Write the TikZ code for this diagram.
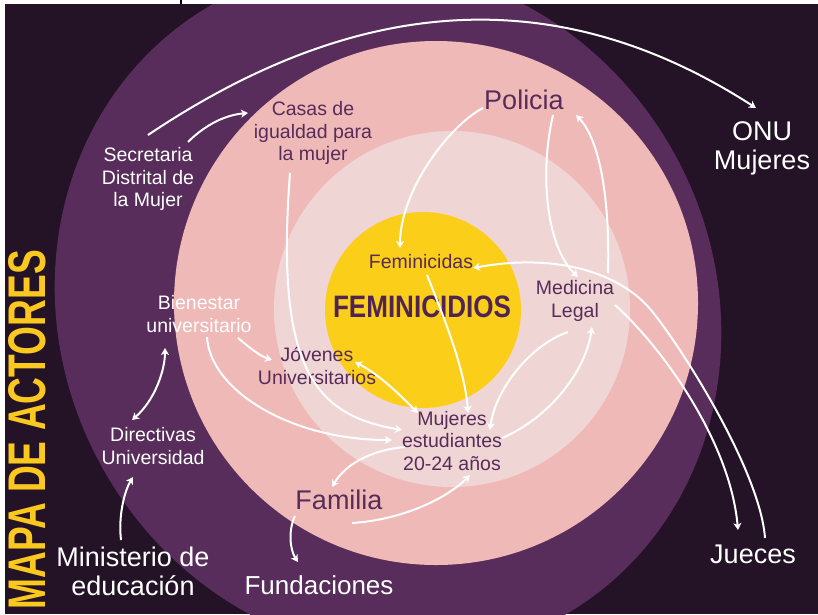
\documentclass[tikz,border=0pt]{standalone}
\usepackage{fontspec}
\setmainfont{Liberation Sans}
\newfontfamily\condfont[FakeStretch=0.84]{Liberation Sans}
\newfontfamily\mapafont[FakeStretch=0.70]{Liberation Sans}
\usetikzlibrary{arrows.meta}
\definecolor{bgdark}{RGB}{36,18,38}
\definecolor{ringpurple}{RGB}{88,45,91}
\definecolor{ringpink}{RGB}{239,185,184}
\definecolor{ringpale}{RGB}{240,213,213}
\definecolor{coreyellow}{RGB}{250,206,25}
\definecolor{txtpurple}{RGB}{88,44,88}
\definecolor{titlepurple}{RGB}{80,36,82}
\definecolor{titleyellow}{RGB}{250,200,30}
\begin{document}
\begin{tikzpicture}[x=1pt,y=-1pt,
  lbl/.style={align=center, inner sep=0pt, font=\fontsize{19.5}{22.5}\selectfont},
  big/.style={align=center, inner sep=0pt, font=\fontsize{27}{29}\selectfont},
  onlight/.style={text=txtpurple},
  ondark/.style={text=white},
  tip/.tip={Stealth[length=7pt,width=8pt,inset=2pt]},
  arr/.style={draw=white, line width=2pt, -tip},
  darr/.style={draw=white, line width=2pt, tip-tip}]
\useasboundingbox (0,0) rectangle (818,614);
\fill[white] (0,0) rectangle (818,614);
\draw[black, line width=1.5pt] (181,0) -- (181,4);
\begin{scope}
\clip (5,4) rectangle (818,614);
\fill[bgdark] (5,4) rectangle (818,614);
\fill[ringpurple, rotate around={-59.4:(388,310)}] (388,310) ellipse [x radius=352.5pt, y radius=326.3pt];
\fill[ringpink] (436,303) circle[radius=262pt];
\fill[ringpale] (452,309) circle[radius=178pt];
\fill[coreyellow] (423,310) circle[radius=98pt];
\node[rotate=90, anchor=base east, inner sep=0pt, text=titleyellow,
      font=\mapafont\bfseries\fontsize{53}{53}\selectfont] (mapa) at (45,250) {MAPA DE ACTORES};
\end{scope}
% nodes
\node[lbl, ondark] (secre) at (148,179) {Secretaria\\Distrital de\\la Mujer};
\node[lbl, onlight] (casas) at (313,133) {Casas de\\igualdad para\\la mujer};
\node[big, onlight] (policia) at (524,100) {Policia};
\node[big, ondark] (onu) at (762,148) {ONU\\Mujeres};
\node[lbl, onlight] (femcidas) at (421,262) {Feminicidas};
\node[inner sep=0pt, text=titlepurple, font=\condfont\bfseries\fontsize{31}{31}\selectfont] (femtitle) at (422,307) {FEMINICIDIOS};
\node[lbl, onlight] (medicina) at (575,301) {Medicina\\Legal};
\node[lbl, ondark] (bienestar) at (199,314) {Bienestar\\universitario};
\node[lbl, onlight] (jovenes) at (317,366) {Jóvenes\\Universitarios};
\node[lbl, onlight] (mujeres) at (452,441) {Mujeres\\estudiantes\\20-24 años};
\node[lbl, ondark] (directivas) at (153,446) {Directivas\\Universidad};
\node[big, onlight] (familia) at (339,500) {Familia};
\node[big, ondark] (ministerio) at (133,571) {Ministerio de\\educación};
\node[big, ondark, font=\fontsize{26}{28}\selectfont] (fundaciones) at (319,585) {Fundaciones};
\node[big, ondark] (jueces) at (753,554) {Jueces};
% connectors
\draw[arr] ([shift={(0,-44)}]secre.center) .. controls (349,0) and (550,-25) .. ([shift={(-6,-40)}]onu.center);
\draw[arr] ([shift={(40,-37)}]secre.center) .. controls (205,125) and (225,115) .. ([shift={(-65,-20)}]casas.center);
\draw[arr] ([shift={(-23,40)}]casas.center) .. controls (275,370) and (315,415) .. ([shift={(-50,-11)}]mujeres.center);
\draw[arr] ([shift={(8,23)}]bienestar.center) .. controls (210,390) and (290,440) .. ([shift={(-60,-1)}]mujeres.center);
\draw[arr] ([shift={(39,24)}]bienestar.center) .. controls (250,348) and (260,356) .. ([shift={(-45,-6)}]jovenes.center);
\draw[darr] ([shift={(38,-4)}]jovenes.center) .. controls (380,375) and (400,395) .. ([shift={(-34,-28)}]mujeres.center);
\draw[darr] ([shift={(-21,-26)}]directivas.center) .. controls (155,400) and (165,370) .. ([shift={(-34,34)}]bienestar.center);
\draw[arr] ([shift={(-12,-31)}]ministerio.center) .. controls (118,515) and (125,490) .. ([shift={(-20,31)}]directivas.center);
\draw[arr] ([shift={(-41,8)}]policia.center) .. controls (450,125) and (400,190) .. ([shift={(-21,-14)}]femcidas.center);
\draw[arr] ([shift={(29,15)}]policia.center) .. controls (540,170) and (545,245) .. ([shift={(3,-24)}]medicina.center);
\draw[arr] ([shift={(33,-28)}]medicina.center) .. controls (610,200) and (600,140) .. ([shift={(52,15)}]policia.center);
\draw[arr] ([shift={(12,-16)}]jueces.center) .. controls (760,470) and (680,345) .. (651,310) .. controls (622,275) and (560,252) .. ([shift={(52,6)}]femcidas.center);
\draw[arr] ([shift={(40,4)}]medicina.center) .. controls (660,345) and (730,440) .. ([shift={(-15,-24)}]jueces.center);
\draw[arr] ([shift={(6,13)}]femcidas.center) .. controls (445,320) and (465,370) .. ([shift={(16,-28)}]mujeres.center);
\draw[arr] ([shift={(-7,31)}]medicina.center) .. controls (530,345) and (495,390) .. ([shift={(38,-11)}]mujeres.center);
\draw[arr] ([shift={(50,-3)}]mujeres.center) .. controls (545,420) and (585,375) .. ([shift={(17,26)}]medicina.center);
\draw[arr] ([shift={(-47,6)}]mujeres.center) .. controls (370,450) and (345,465) .. ([shift={(-7,-13)}]familia.center);
\draw[arr] ([shift={(13,23)}]familia.center) .. controls (400,520) and (445,500) .. ([shift={(18,34)}]mujeres.center);
\draw[arr] ([shift={(-44,16)}]familia.center) .. controls (288,530) and (290,550) .. ([shift={(-21,-23)}]fundaciones.center);
\end{tikzpicture}
\end{document}
